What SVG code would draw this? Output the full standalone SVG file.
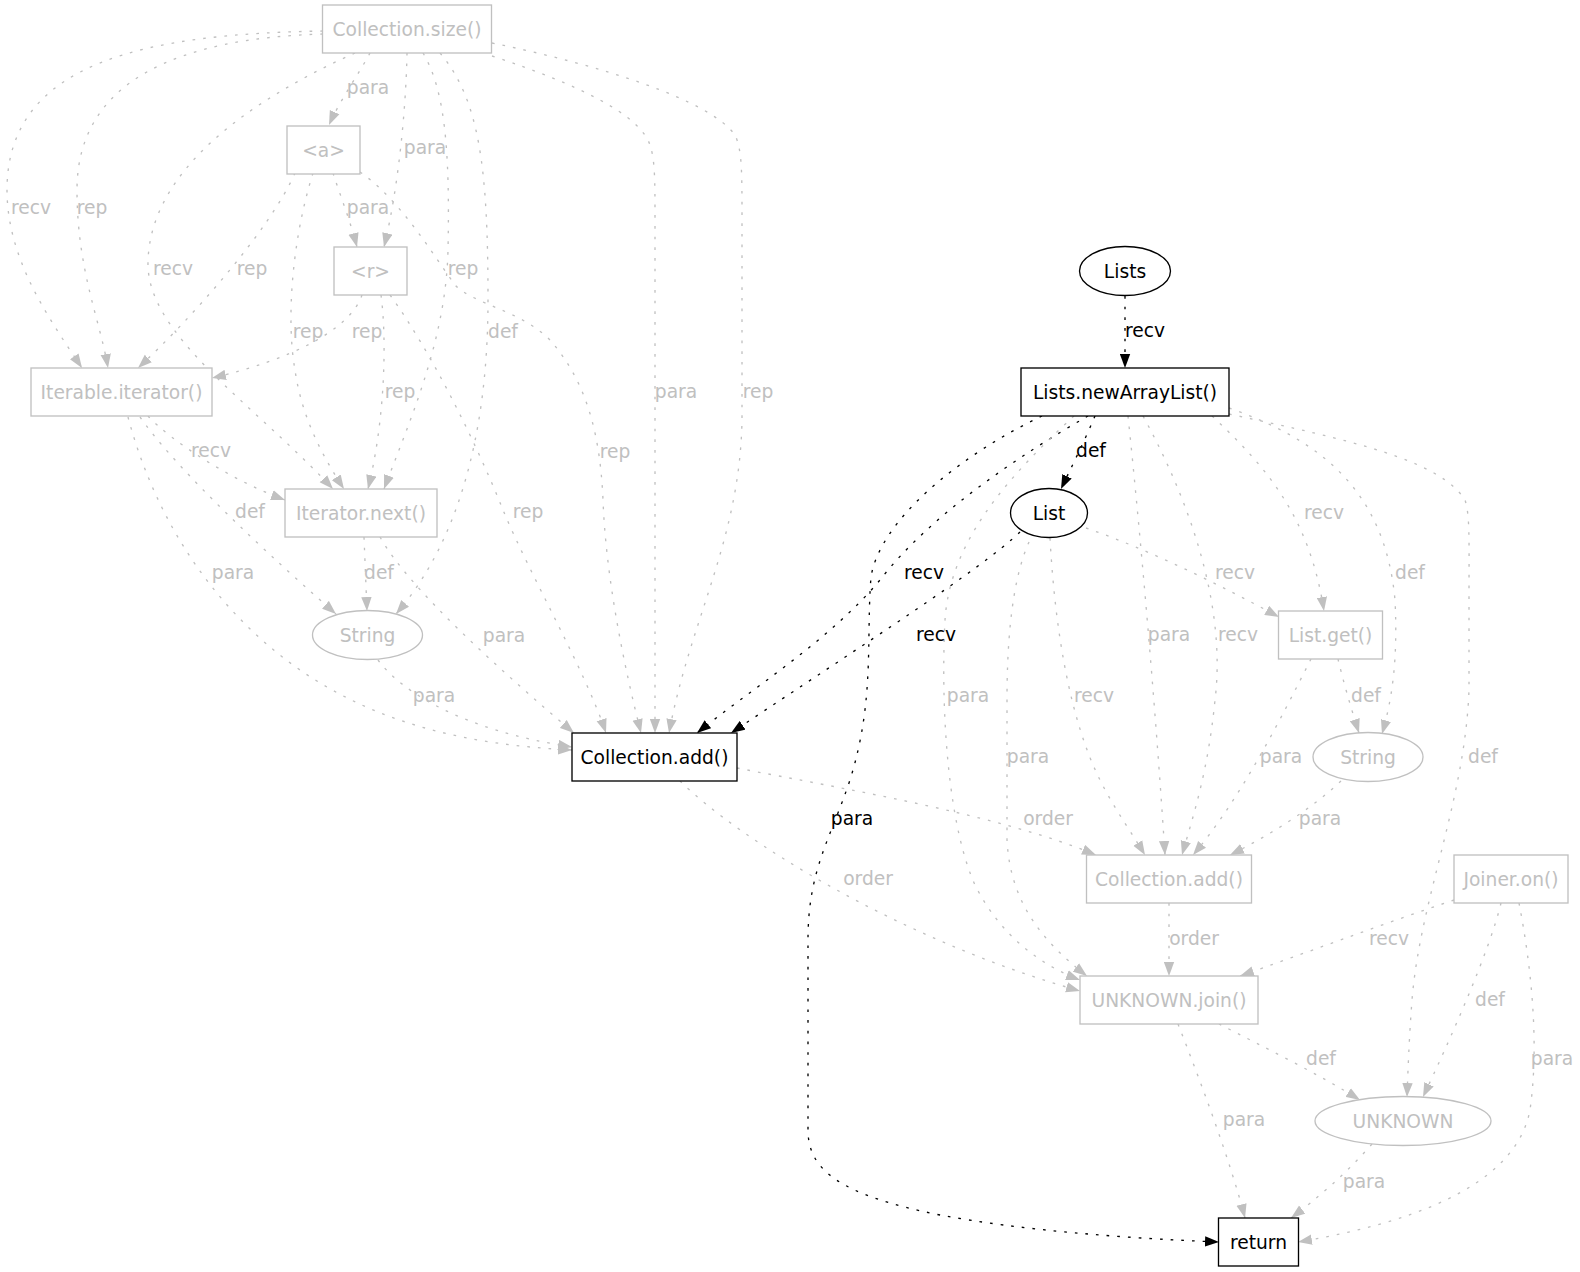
<svg xmlns="http://www.w3.org/2000/svg" width="1580" height="1272" viewBox="0 0 1580 1272">
<defs>
<style>
.e{fill:none;stroke-width:1.33;stroke-dasharray:2.67 8}
.g{stroke:#c0c0c0}
.b{stroke:#000}
.eg{marker-end:url(#ag)}
.eb{marker-end:url(#ab)}
text{font-family:"DejaVu Sans","Liberation Sans",sans-serif;font-size:18.67px;text-anchor:middle}
.tg{fill:#c0c0c0}
.tb{fill:#000}
.ng{fill:#fff;stroke:#c0c0c0;stroke-width:1.33}
.nb{fill:#fff;stroke:#000;stroke-width:1.33}
</style>
<marker id="ag" viewBox="0 0 14 11" refX="14" refY="5.5" markerWidth="14" markerHeight="11" markerUnits="userSpaceOnUse" orient="auto"><path d="M0,0.3 L14,5.5 L0,10.7 z" fill="#c0c0c0"/></marker>
<marker id="ab" viewBox="0 0 14 11" refX="14" refY="5.5" markerWidth="14" markerHeight="11" markerUnits="userSpaceOnUse" orient="auto"><path d="M0,0.3 L14,5.5 L0,10.7 z" fill="#000"/></marker>
</defs>
<rect width="1580" height="1272" fill="#fff"/>
<g id="edges">
<path class="e g eg" d="M323,31 C150,34 7,60 7,190 C7,260 50,320 82,368"/>
<path class="e g eg" d="M323,34 C180,38 77,80 77,190 C77,270 100,320 108,368"/>
<path class="e g eg" d="M370,53 C360,72 340,100 329,125"/>
<path class="e g eg" d="M355,53 C250,100 150,170 148,262 C146,335 255,405 333,489"/>
<path class="e g eg" d="M407,53 C406,110 398,190 384,247"/>
<path class="e g eg" d="M423,53 C445,90 450,150 448,250 C446,340 410,420 384,489"/>
<path class="e g eg" d="M440,53 C480,100 488,170 488,300 C488,430 460,540 396,614"/>
<path class="e g eg" d="M492,56 C580,85 640,115 650,145 C655,160 655,180 655,220 L655,733"/>
<path class="e g eg" d="M492,43 C600,65 710,100 735,135 C742,150 742,170 742,220 L742,420 C740,540 690,620 669,733"/>
<path class="e g eg" d="M148,416 C170,440 230,480 285,500"/>
<path class="e g eg" d="M140,417 C170,460 240,530 336,614"/>
<path class="e g eg" d="M128,417 C150,500 200,600 300,670 C380,725 470,745 572,750"/>
<path class="e g eg" d="M378,660 C400,690 460,730 572,747"/>
<path class="e g eg" d="M295,173 C270,230 190,320 138,368"/>
<path class="e g eg" d="M333,173 C340,195 350,220 357,247"/>
<path class="e g eg" d="M313,173 C292,240 286,320 295,370 C302,420 325,460 344,489"/>
<path class="e g eg" d="M360,172 C400,200 430,250 455,285 C475,305 520,310 550,340 C585,380 600,430 603,500 C606,580 625,670 641,733"/>
<path class="e g eg" d="M362,295 C350,330 290,360 212,378"/>
<path class="e g eg" d="M381,295 C387,340 385,420 368,489"/>
<path class="e g eg" d="M390,295 C430,350 475,440 503,510 C530,575 585,670 606,733"/>
<path class="e g eg" d="M364,537 L367,611"/>
<path class="e g eg" d="M380,537 C410,590 500,670 574,733"/>
<path class="e b eb" d="M1125,296 L1125,368"/>
<path class="e b eb" d="M1095,416 C1085,440 1070,470 1061,489"/>
<path class="e b eb" d="M1088,416 C1020,455 930,515 880,580 C830,640 750,690 697,733"/>
<path class="e b eb" d="M1020,532 C980,570 870,640 731,733"/>
<path class="e b eb" d="M1042,416 C960,455 880,520 871,577 C866,640 875,700 850,780 C830,840 808,870 808,940 L808,1130 C808,1170 840,1195 940,1215 C1020,1230 1120,1238 1219,1242"/>
<path class="e g eg" d="M1074,416 C1010,475 950,540 945,620 C940,720 950,830 975,885 C1000,935 1040,965 1080,980"/>
<path class="e g eg" d="M1128,416 C1140,530 1155,700 1165,855"/>
<path class="e g eg" d="M1143,416 C1200,520 1225,620 1215,700 C1208,770 1195,810 1182,855"/>
<path class="e g eg" d="M1212,416 C1270,470 1310,520 1324,611"/>
<path class="e g eg" d="M1229,408 C1320,440 1385,490 1395,600 C1398,660 1392,700 1382,734"/>
<path class="e g eg" d="M1229,414 C1350,440 1440,460 1465,500 C1470,515 1469,540 1469,600 L1469,690 C1465,800 1420,900 1412,1000 C1409,1040 1408,1070 1407,1097"/>
<path class="e g eg" d="M1086,528 C1150,550 1220,585 1279,617"/>
<path class="e g eg" d="M1050,538 C1055,630 1070,720 1100,780 C1115,810 1130,830 1145,855"/>
<path class="e g eg" d="M1029,542 C1012,580 1007,640 1007,700 L1007,840 C1010,900 1040,940 1087,976"/>
<path class="e g eg" d="M737,768 C850,790 1000,815 1096,855"/>
<path class="e g eg" d="M680,781 C740,840 900,940 1080,991"/>
<path class="e g eg" d="M1338,659 C1343,680 1350,705 1359,733"/>
<path class="e g eg" d="M1311,659 C1280,720 1240,800 1193,855"/>
<path class="e g eg" d="M1341,781 C1310,810 1270,835 1230,855"/>
<path class="e g eg" d="M1169,903 L1169,976"/>
<path class="e g eg" d="M1454,900 C1380,925 1300,955 1240,976"/>
<path class="e g eg" d="M1501,903 C1490,950 1450,1040 1423,1097"/>
<path class="e g eg" d="M1519,903 C1530,960 1540,1040 1530,1110 C1515,1190 1400,1225 1298,1242"/>
<path class="e g eg" d="M1219,1024 C1260,1045 1320,1075 1360,1100"/>
<path class="e g eg" d="M1178,1024 C1200,1080 1230,1160 1245,1218"/>
<path class="e g eg" d="M1372,1144 C1345,1175 1315,1200 1291,1218"/>
<g class="tg">
<text x="31" y="214">recv</text>
<text x="92" y="214">rep</text>
<text x="368" y="94">para</text>
<text x="425" y="154">para</text>
<text x="368" y="214">para</text>
<text x="173" y="275">recv</text>
<text x="252" y="275">rep</text>
<text x="463" y="275">rep</text>
<text x="308" y="338">rep</text>
<text x="367" y="338">rep</text>
<text x="503" y="338">def</text>
<text x="676" y="398">para</text>
<text x="758" y="398">rep</text>
<text x="400" y="398">rep</text>
<text x="211" y="457">recv</text>
<text x="615" y="458">rep</text>
<text x="250" y="518">def</text>
<text x="528" y="518">rep</text>
<text x="233" y="579">para</text>
<text x="379" y="579">def</text>
<text x="504" y="642">para</text>
<text x="434" y="702">para</text>
<text x="1324" y="519">recv</text>
<text x="1235" y="579">recv</text>
<text x="1410" y="579">def</text>
<text x="1169" y="641">para</text>
<text x="1238" y="641">recv</text>
<text x="968" y="702">para</text>
<text x="1094" y="702">recv</text>
<text x="1366" y="702">def</text>
<text x="1028" y="763">para</text>
<text x="1483" y="763">def</text>
<text x="1281" y="763">para</text>
<text x="1048" y="825">order</text>
<text x="1320" y="825">para</text>
<text x="868" y="885">order</text>
<text x="1194" y="945">order</text>
<text x="1389" y="945">recv</text>
<text x="1490" y="1006">def</text>
<text x="1321" y="1065">def</text>
<text x="1552" y="1065">para</text>
<text x="1244" y="1126">para</text>
<text x="1364" y="1188">para</text>
</g>
<g class="tb">
<text x="1145" y="337">recv</text>
<text x="1091" y="457">def</text>
<text x="924" y="579">recv</text>
<text x="936" y="641">recv</text>
<text x="852" y="825">para</text>
</g>
</g>
<g id="n_collection_size"><rect class="ng" x="322.5" y="5" width="169" height="48"/><text class="tg" x="407" y="35.5">Collection.size()</text></g>
<g id="n_a"><rect class="ng" x="287" y="126" width="73" height="48"/><text class="tg" x="323.5" y="156.5">&lt;a&gt;</text></g>
<g id="n_r"><rect class="ng" x="334" y="247" width="73" height="48"/><text class="tg" x="370.5" y="277.5">&lt;r&gt;</text></g>
<g id="n_iterable_iterator"><rect class="ng" x="31" y="368" width="181" height="48"/><text class="tg" x="121.5" y="398.5">Iterable.iterator()</text></g>
<g id="n_iterator_next"><rect class="ng" x="285" y="489" width="152" height="48"/><text class="tg" x="361" y="519.5">Iterator.next()</text></g>
<g id="n_string_left"><ellipse class="ng" cx="367.5" cy="635" rx="55" ry="24.5"/><text class="tg" x="367.5" y="641.5">String</text></g>
<g id="n_collection_add_main"><rect class="nb" x="572" y="733" width="165" height="48"/><text class="tb" x="654.5" y="763.5">Collection.add()</text></g>
<g id="n_lists"><ellipse class="nb" cx="1125" cy="271" rx="45.5" ry="24.5"/><text class="tb" x="1125" y="277.5">Lists</text></g>
<g id="n_lists_newarraylist"><rect class="nb" x="1021" y="368" width="208" height="48"/><text class="tb" x="1125" y="398.5">Lists.newArrayList()</text></g>
<g id="n_list"><ellipse class="nb" cx="1049" cy="513" rx="38.5" ry="24.5"/><text class="tb" x="1049" y="519.5">List</text></g>
<g id="n_list_get"><rect class="ng" x="1278.5" y="611" width="104" height="48"/><text class="tg" x="1330.5" y="641.5">List.get()</text></g>
<g id="n_string_right"><ellipse class="ng" cx="1368" cy="757" rx="55" ry="24.5"/><text class="tg" x="1368" y="763.5">String</text></g>
<g id="n_collection_add_2"><rect class="ng" x="1086.5" y="855" width="165" height="48"/><text class="tg" x="1169" y="885.5">Collection.add()</text></g>
<g id="n_joiner_on"><rect class="ng" x="1454" y="855" width="114" height="48"/><text class="tg" x="1511" y="885.5">Joiner.on()</text></g>
<g id="n_unknown_join"><rect class="ng" x="1080" y="976" width="178" height="48"/><text class="tg" x="1169" y="1006.5">UNKNOWN.join()</text></g>
<g id="n_unknown"><ellipse class="ng" cx="1403" cy="1121" rx="88" ry="24.5"/><text class="tg" x="1403" y="1127.5">UNKNOWN</text></g>
<g id="n_return"><rect class="nb" x="1218.5" y="1218" width="80" height="48"/><text class="tb" x="1258.5" y="1248.5">return</text></g>
</svg>
